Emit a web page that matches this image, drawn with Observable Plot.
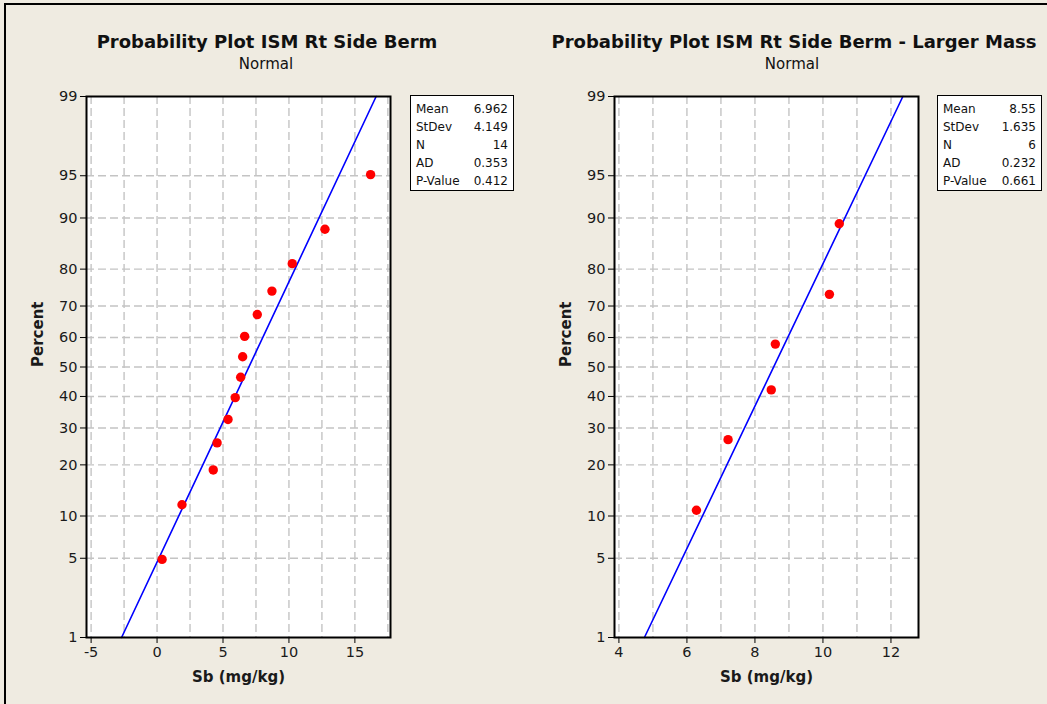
<!DOCTYPE html>
<html><head><meta charset="utf-8">
<script src="https://cdn.jsdelivr.net/npm/d3@7"></script>
<script src="https://cdn.jsdelivr.net/npm/@observablehq/plot@0.6"></script>
<style>
body{margin:0;background:#EFEBE1;font-family:"DejaVu Sans",sans-serif;color:#111}
#page{position:relative;width:1047px;height:704px;overflow:hidden;background:#EFEBE1}
#edge{position:absolute;left:4px;top:3px;width:1200px;height:900px;border-left:2px solid #000;border-top:2px solid #000}
.title{position:absolute;font-weight:bold;font-size:18px;line-height:22px;text-align:center;white-space:nowrap;transform:translateX(-50%)}
.sub{position:absolute;font-size:15px;line-height:18px;text-align:center;white-space:nowrap;transform:translateX(-50%)}
.plot{position:absolute;top:80px}
.stats{position:absolute;background:#fff;border:1.5px solid #000;font-size:12px;padding:4px 5px 2px 5px;box-sizing:border-box}
.stats table{border-collapse:collapse;width:100%}
.stats td{padding:0;height:18px;line-height:18px}
.stats td.v{text-align:right}
</style></head>
<body><div id="page"><div id="edge"></div></div>
<script>
// ---- data ----
const titles = ["Probability Plot ISM Rt Side Berm", "Probability Plot ISM Rt Side Berm - Larger Mass"];
const subtitle = "Normal";
const xLabel = "Sb (mg/kg)";
const yLabel = "Percent";
const percentTicks = [1, 5, 10, 20, 30, 40, 50, 60, 70, 80, 90, 95, 99];

const leftValues = [0.38, 1.89, 4.26, 4.55, 5.38, 5.93, 6.34, 6.49, 6.64, 7.6, 8.71, 10.25, 12.73, 16.19];
const leftPercents = [4.9, 11.8, 18.8, 25.7, 32.6, 39.6, 46.5, 53.5, 60.4, 67.4, 74.3, 81.3, 88.2, 95.1];
const leftFitX = [-2.69, 16.61];
const leftFitPct = [1, 99];
const leftXTicks = [-5, 0, 5, 10, 15];
const leftXGrid = [-5, -2.5, 0, 2.5, 5, 7.5, 10, 12.5, 15, 17.5];
const leftXDomain = [-5.35, 17.7];
const leftStatsLabels = ["Mean", "StDev", "N", "AD", "P-Value"];
const leftStatsValues = ["6.962", "4.149", "14", "0.353", "0.412"];

const rightValues = [6.28, 7.21, 8.48, 8.6, 10.19, 10.48];
const rightPercents = [10.9, 26.6, 42.2, 57.8, 73.4, 89.1];
const rightFitX = [4.75, 12.35];
const rightFitPct = [1, 99];
const rightXTicks = [4, 6, 8, 10, 12];
const rightXGrid = [4, 5, 6, 7, 8, 9, 10, 11, 12];
const rightXDomain = [3.87, 12.81];
const rightStatsLabels = ["Mean", "StDev", "N", "AD", "P-Value"];
const rightStatsValues = ["8.55", "1.635", "6", "0.232", "0.661"];

// inverse standard normal CDF (Acklam)
function z(p) {
  const a=[-3.969683028665376e+01,2.209460984245205e+02,-2.759285104469687e+02,1.383577518672690e+02,-3.066479806614716e+01,2.506628277459239e+00];
  const b=[-5.447609879822406e+01,1.615858368580409e+02,-1.556989798598866e+02,6.680131188771972e+01,-1.328068155288572e+01];
  const c=[-7.784894002430293e-03,-3.223964580411365e-01,-2.400758277161838e+00,-2.549671010139583e+00,4.374664141464968e+00,2.938163982698783e+00];
  const d=[7.784695709041462e-03,3.224671290700398e-01,2.445134137142996e+00,3.754408661907416e+00];
  const pl=0.02425, ph=1-pl;
  let q,r;
  if (p<pl){q=Math.sqrt(-2*Math.log(p));return (((((c[0]*q+c[1])*q+c[2])*q+c[3])*q+c[4])*q+c[5])/((((d[0]*q+d[1])*q+d[2])*q+d[3])*q+1);}
  if (p<=ph){q=p-0.5;r=q*q;return (((((a[0]*r+a[1])*r+a[2])*r+a[3])*r+a[4])*r+a[5])*q/(((((b[0]*r+b[1])*r+b[2])*r+b[3])*r+b[4])*r+1);}
  q=Math.sqrt(-2*Math.log(1-p));return -(((((c[0]*q+c[1])*q+c[2])*q+c[3])*q+c[4])*q+c[5])/((((d[0]*q+d[1])*q+d[2])*q+d[3])*q+1);
}

const gridColor = "#c4c4c4";

function panel(values, percents, fitX, fitPct, xTicks, xGrid, xDomain) {
  const pts = values.map((v, i) => ({x: v, y: z(percents[i] / 100)}));
  const fit = fitX.map((v, i) => ({x: v, y: z(fitPct[i] / 100)}));
  const yT = percentTicks.map(p => z(p / 100));
  const yGrid = yT.slice(1, -1);
  return Plot.plot({
    width: 400, height: 620,
    marginLeft: 86, marginRight: 10, marginTop: 16, marginBottom: 63,
    style: {background: "transparent", fontFamily: "DejaVu Sans, sans-serif", fontSize: "14.5px", color: "#1a1a1a", overflow: "visible"},
    x: {domain: xDomain},
    y: {domain: [z(0.01), z(0.99)]},
    marks: [
      Plot.frame({fill: "white", stroke: null}),
      Plot.gridX(xGrid, {stroke: gridColor, strokeOpacity: 1, strokeWidth: 1.4, strokeDasharray: "8,4"}),
      Plot.gridY(yGrid, {stroke: gridColor, strokeOpacity: 1, strokeWidth: 1.4, strokeDasharray: "8,4"}),
      Plot.line(fit, {x: "x", y: "y", stroke: "#0000ff", strokeWidth: 1.6}),
      Plot.dot(pts, {x: "x", y: "y", r: 4.7, fill: "#ff0000", stroke: null}),
      Plot.frame({stroke: "#000", strokeWidth: 2}),
      Plot.axisX({ticks: xTicks, tickSize: 6, tickPadding: 3, tickFormat: d => d < 0 ? "-" + Math.abs(d) : String(d), label: null, stroke: "#000"}),
      Plot.axisY({ticks: yT, tickSize: 6, tickPadding: 3, tickFormat: (d, i) => String(percentTicks[i]), label: null, stroke: "#000"}),
      Plot.text([xLabel], {text: d => d, frameAnchor: "bottom", lineAnchor: "middle", dy: 40, fontWeight: "bold", fontSize: 15, fill: "#1a1a1a"}),
      Plot.text([yLabel], {text: d => d, frameAnchor: "left", rotate: -90, dx: -48, fontWeight: "bold", fontSize: 15, fill: "#1a1a1a"})
    ]
  });
}

const page = document.getElementById("page");

function addText(cls, txt, cx, top) {
  const el = document.createElement("div");
  el.className = cls; el.textContent = txt;
  el.style.left = cx + "px"; el.style.top = top + "px";
  page.appendChild(el);
}
function addStats(labels, vals, left, top, w, h) {
  const box = document.createElement("div");
  box.className = "stats";
  box.style.left = left + "px"; box.style.top = top + "px";
  box.style.width = w + "px"; box.style.height = h + "px";
  const t = document.createElement("table");
  labels.forEach((l, i) => {
    const tr = document.createElement("tr");
    const a = document.createElement("td"); a.textContent = l;
    const b = document.createElement("td"); b.className = "v"; b.textContent = vals[i];
    tr.appendChild(a); tr.appendChild(b); t.appendChild(tr);
  });
  box.appendChild(t);
  page.appendChild(box);
}

const p1 = panel(leftValues, leftPercents, leftFitX, leftFitPct, leftXTicks, leftXGrid, leftXDomain);
p1.classList.add("plot"); p1.style.left = "0px";
page.appendChild(p1);
const p2 = panel(rightValues, rightPercents, rightFitX, rightFitPct, rightXTicks, rightXGrid, rightXDomain);
p2.classList.add("plot"); p2.style.left = "528px";
page.appendChild(p2);

addText("title", titles[0], 267, 31);
addText("sub", subtitle, 266, 55);
addText("title", titles[1], 794, 31);
addText("sub", subtitle, 792, 55);
addStats(leftStatsLabels, leftStatsValues, 410, 95, 104, 96);
addStats(rightStatsLabels, rightStatsValues, 937, 95, 105, 96);
</script>
</body></html>
